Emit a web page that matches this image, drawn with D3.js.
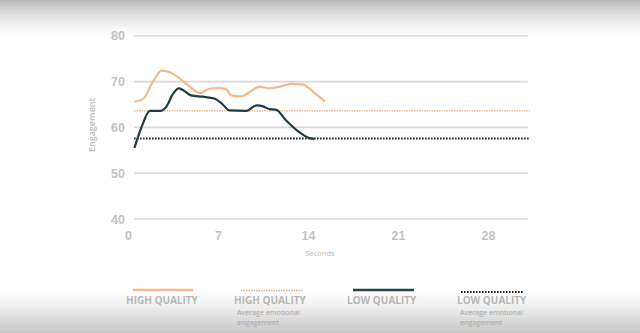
<!DOCTYPE html>
<html>
<head>
<meta charset="utf-8">
<script src="https://cdn.jsdelivr.net/npm/d3@7"></script>
<style>
  html, body { margin: 0; padding: 0; background: #fff; }
  svg { display: block; font-family: "Open Sans", "Noto Sans", sans-serif; }
</style>
</head>
<body>
<svg id="chart" width="640" height="333"></svg>
<script>
// Engagement over time, seconds
const highSeconds = [0.5, 1.2, 2.0, 2.6, 3.4, 4.0, 4.8, 5.6, 6.4, 7.1, 7.65, 8.0, 8.8, 9.5, 10.2, 11.0, 11.8, 12.7, 13.6, 14.1, 14.6, 15.3];
const highValues  = [65.6, 66.3, 70.3, 72.4, 71.9, 70.7, 68.9, 67.5, 68.5, 68.6, 68.3, 67.0, 66.8, 67.8, 68.9, 68.5, 68.9, 69.5, 69.4, 68.5, 67.3, 65.7];

const lowSeconds = [0.5, 1.06, 1.7, 2.5, 3.0, 3.5, 3.95, 4.3, 4.9, 5.8, 6.7, 7.3, 7.9, 9.2, 10.0, 10.5, 11.0, 11.5, 12.3, 13.3, 14.2, 14.5];
const lowValues  = [55.5, 60.1, 63.6, 63.6, 64.6, 67.3, 68.5, 68.1, 67.0, 66.7, 66.3, 65.2, 63.7, 63.6, 64.8, 64.6, 64.0, 63.9, 61.5, 59.0, 57.6, 57.5];

const highAverage = 63.6;
const lowAverage = 57.6;

const xTicks = [0, 7, 14, 21, 28];
const yTicks = [40, 50, 60, 70, 80];

const legendTitles = ["HIGH QUALITY", "HIGH QUALITY", "LOW QUALITY", "LOW QUALITY"];
const legendNotes = ["", "Average emotional|engagement", "", "Average emotional|engagement"];

const W = 640, H = 333;
const svg = d3.select("#chart");

// soft grey vignette at top and bottom
const defs = svg.append("defs");
const bg = defs.append("linearGradient").attr("id", "bg").attr("x1", 0).attr("y1", 0).attr("x2", 0).attr("y2", 1);
[[0, "#b9b9b9"], [0.03, "#d6d6d6"], [0.08, "#f4f4f4"], [0.11, "#ffffff"],
 [0.87, "#ffffff"], [0.92, "#f0f0f0"], [0.97, "#d4d4d4"], [1, "#c6c6c6"]]
  .forEach(([o, c]) => bg.append("stop").attr("offset", o).attr("stop-color", c));
svg.append("rect").attr("width", W).attr("height", H).attr("fill", "url(#bg)");

const x = d3.scaleLinear().domain([0, 28]).range([128, 488]);
const y = d3.scaleLinear().domain([40, 80]).range([219, 35.8]);
const gridX0 = x(0.47), gridX1 = x(31.1);

// horizontal grid
const yAxis = d3.axisLeft(y).tickValues(yTicks).tickSize(0).tickPadding(0);
const gy = svg.append("g").attr("transform", `translate(125,0)`).call(yAxis);
gy.select(".domain").remove();
gy.selectAll("text").attr("fill", "#c3c3c3").attr("font-size", 12.5).attr("font-weight", 600)
  .attr("text-anchor", "end").attr("dx", 0);

svg.append("g").selectAll("line").data(yTicks).join("line")
  .attr("x1", gridX0).attr("x2", gridX1)
  .attr("y1", d => y(d)).attr("y2", d => y(d))
  .attr("stroke", "#dbd6dc").attr("stroke-width", 1.6);

const xAxis = d3.axisBottom(x).tickValues(xTicks).tickSize(0).tickPadding(0);
const gx = svg.append("g").attr("transform", `translate(0,230)`).call(xAxis);
gx.select(".domain").remove();
gx.selectAll("text").attr("fill", "#c3c3c3").attr("font-size", 12.5).attr("font-weight", 600).attr("dy", "0.35em").attr("y", 6);

svg.append("text").attr("x", 320).attr("y", 256).attr("text-anchor", "middle")
  .attr("fill", "#b9b9b9").attr("font-size", 7.5).text("Seconds");
svg.append("text").attr("transform", "translate(95,125) rotate(-90)").attr("text-anchor", "middle")
  .attr("fill", "#bdbdbd").attr("font-size", 9).attr("font-weight", 600).text("Engagement");

// average lines
svg.append("line").attr("x1", gridX0).attr("x2", gridX1 + 2)
  .attr("y1", y(highAverage)).attr("y2", y(highAverage))
  .attr("stroke", "#f2a979").attr("stroke-width", 1.4).attr("stroke-dasharray", "1.5,1");
svg.append("line").attr("x1", gridX0).attr("x2", gridX1 + 2)
  .attr("y1", y(lowAverage)).attr("y2", y(lowAverage))
  .attr("stroke", "#1d2a2e").attr("stroke-width", 2).attr("stroke-dasharray", "1.6,1.4");

const line = d3.line().x(d => x(d[0])).y(d => y(d[1])).curve(d3.curveMonotoneX);

svg.append("path").datum(d3.zip(highSeconds, highValues))
  .attr("d", line).attr("fill", "none").attr("stroke", "#f5b88c").attr("stroke-width", 2.2)
  .attr("stroke-linejoin", "round");
svg.append("path").datum(d3.zip(lowSeconds, lowValues))
  .attr("d", line).attr("fill", "none").attr("stroke", "#1f3c40").attr("stroke-width", 2.2)
  .attr("stroke-linejoin", "round");

// legend
const legendX = [126, 234, 347, 457];
const swatches = [
  { x0: 133, x1: 193, stroke: "#f5b88c", w: 2.4, dash: null, y: 290 },
  { x0: 241, x1: 303, stroke: "#f2a979", w: 1.4, dash: "1.5,1", y: 290.5 },
  { x0: 353, x1: 414, stroke: "#2a4448", w: 2.4, dash: null, y: 290 },
  { x0: 461, x1: 523, stroke: "#222", w: 2, dash: "1.6,1.4", y: 292 }
];
const lg = svg.append("g");
swatches.forEach((s, i) => {
  lg.append("line").attr("x1", s.x0).attr("x2", s.x1).attr("y1", s.y).attr("y2", s.y)
    .attr("stroke", s.stroke).attr("stroke-width", s.w).attr("stroke-dasharray", s.dash);
  lg.append("text").attr("x", legendX[i]).attr("y", 303.5)
    .attr("fill", "#b7b7b7").attr("font-size", 10).attr("font-weight", 700)
    .text(legendTitles[i]);
  const notes = legendNotes[i].split("|").filter(t => t);
  if (notes.length) {
    const note = lg.append("text").attr("y", 315)
      .attr("fill", "#a9a9a9").attr("font-size", 7.2);
    notes.forEach((t, j) => {
      note.append("tspan").attr("x", legendX[i] + 3).attr("dy", j ? 9.6 : 0).text(t);
    });
  }
});
</script>
</body>
</html>
